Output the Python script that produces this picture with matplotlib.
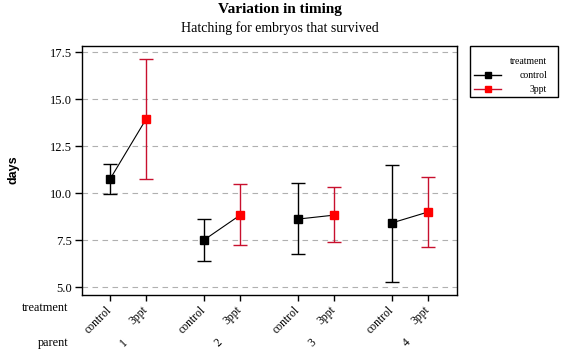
import matplotlib
matplotlib.use("Agg")
import matplotlib.pyplot as plt
from matplotlib.lines import Line2D
from matplotlib.patches import Rectangle

parents = ["1", "2", "3", "4"]
treatments = ["control", "3ppt"]
control_mean = [10.745, 7.51, 8.62, 8.42]
control_hi = [11.54, 8.62, 10.53, 11.49]
control_lo = [9.95, 6.38, 6.76, 5.27]
ppt_mean = [13.94, 8.83, 8.83, 9.00]
ppt_hi = [17.13, 10.48, 10.32, 10.85]
ppt_lo = [10.745, 7.23, 7.41, 7.13]
yticks = [5.0, 7.5, 10.0, 12.5, 15.0, 17.5]

plt.rcParams['font.family'] = ['Liberation Serif', 'DejaVu Serif']

W, H = 563, 360
fig = plt.figure(figsize=(W / 100, H / 100), dpi=100)
ax_l, ax_r, ax_t, ax_b = 82, 457, 46, 295.3
ax = fig.add_axes([ax_l / W, 1 - ax_b / H, (ax_r - ax_l) / W, (ax_b - ax_t) / H])

off = 0.383
xc = [i for i in range(len(parents))]
xp = [i + off for i in range(len(parents))]

red_marker = '#ff0000'
red_bar = '#c8102e'

for i in range(len(parents)):
    ax.plot([xc[i], xp[i]], [control_mean[i], ppt_mean[i]], color='black', lw=0.8, zorder=2)

ax.errorbar(xc, control_mean,
            yerr=[[m - l for m, l in zip(control_mean, control_lo)],
                  [h - m for m, h in zip(control_mean, control_hi)]],
            fmt='s', color='black', ecolor='black', elinewidth=1.0, capsize=5,
            capthick=1.0, markersize=6.3, zorder=3)
ax.errorbar(xp, ppt_mean,
            yerr=[[m - l for m, l in zip(ppt_mean, ppt_lo)],
                  [h - m for m, h in zip(ppt_mean, ppt_hi)]],
            fmt='s', color=red_marker, ecolor=red_bar, elinewidth=1.0, capsize=5,
            capthick=1.0, markersize=6.3, markeredgecolor=red_marker, zorder=3)

ax.set_xlim(-0.298, 3.688)
ax.set_ylim(4.56, 17.835)
ax.set_yticks(yticks)
ax.set_yticklabels([f"{v:.1f}" for v in yticks], fontsize=9)
ax.yaxis.grid(True, linestyle=(0, (5, 4)), color='#b0b0b0', lw=0.8)
ax.set_axisbelow(True)

xt = []
xl = []
for i in range(len(parents)):
    xt += [xc[i], xp[i]]
    xl += treatments
ax.set_xticks(xt)
ax.set_xticklabels(xl, rotation=45, ha='right', va='center', fontsize=8.4,
                   rotation_mode='anchor')
ax.tick_params(axis='x', length=4.5, width=1, pad=5)
ax.tick_params(axis='y', length=5, width=1, pad=2)
for s in ax.spines.values():
    s.set_linewidth(1.0)

for i, p in enumerate(parents):
    xm = (xc[i] + xp[i]) / 2 - 0.04
    ax.text(xm, -0.191, p, transform=ax.get_xaxis_transform(), rotation=45,
            ha='center', va='center', fontsize=8.4)

fig.text(68 / W, 1 - 308 / H, "treatment", ha='right', va='center', fontsize=8.8)
fig.text(68 / W, 1 - 343 / H, "parent", ha='right', va='center', fontsize=8.8)

fig.text(14 / W, 1 - 170 / H, "days", ha='center', va='center', rotation=90,
         fontsize=9, fontweight='bold', family='Liberation Sans')

fig.text(280 / W, 1 - 10 / H, "Variation in timing", ha='center',
         va='center', fontsize=11, fontweight='bold')
fig.text(280 / W, 1 - 28 / H, "Hatching for embryos that survived",
         ha='center', va='center', fontsize=10)

# legend drawn in figure pixel coordinates
fig.add_artist(Rectangle((470 / W, 1 - 97 / H), (558 - 470) / W, (97 - 46) / H,
                         transform=fig.transFigure, fill=False, edgecolor='black', lw=1.0))
fig.text(547 / W, 1 - 62 / H, "treatment", ha='right', va='center', fontsize=7)
leg_colors = ['black', red_bar]
leg_mcolors = ['black', red_marker]
leg_y = [75, 89]
for name, lc, mc, yy in zip(treatments, leg_colors, leg_mcolors, leg_y):
    fig.add_artist(Line2D([474 / W, 501 / W], [1 - yy / H, 1 - yy / H],
                          transform=fig.transFigure, color=lc, lw=1.0))
    fig.add_artist(Line2D([488 / W], [1 - yy / H], transform=fig.transFigure,
                          marker='s', markersize=5, color=mc, markeredgecolor=mc, lw=0))
    fig.text(547 / W, 1 - yy / H, name, ha='right', va='center', fontsize=7)

fig.savefig("out.png", dpi=100)
